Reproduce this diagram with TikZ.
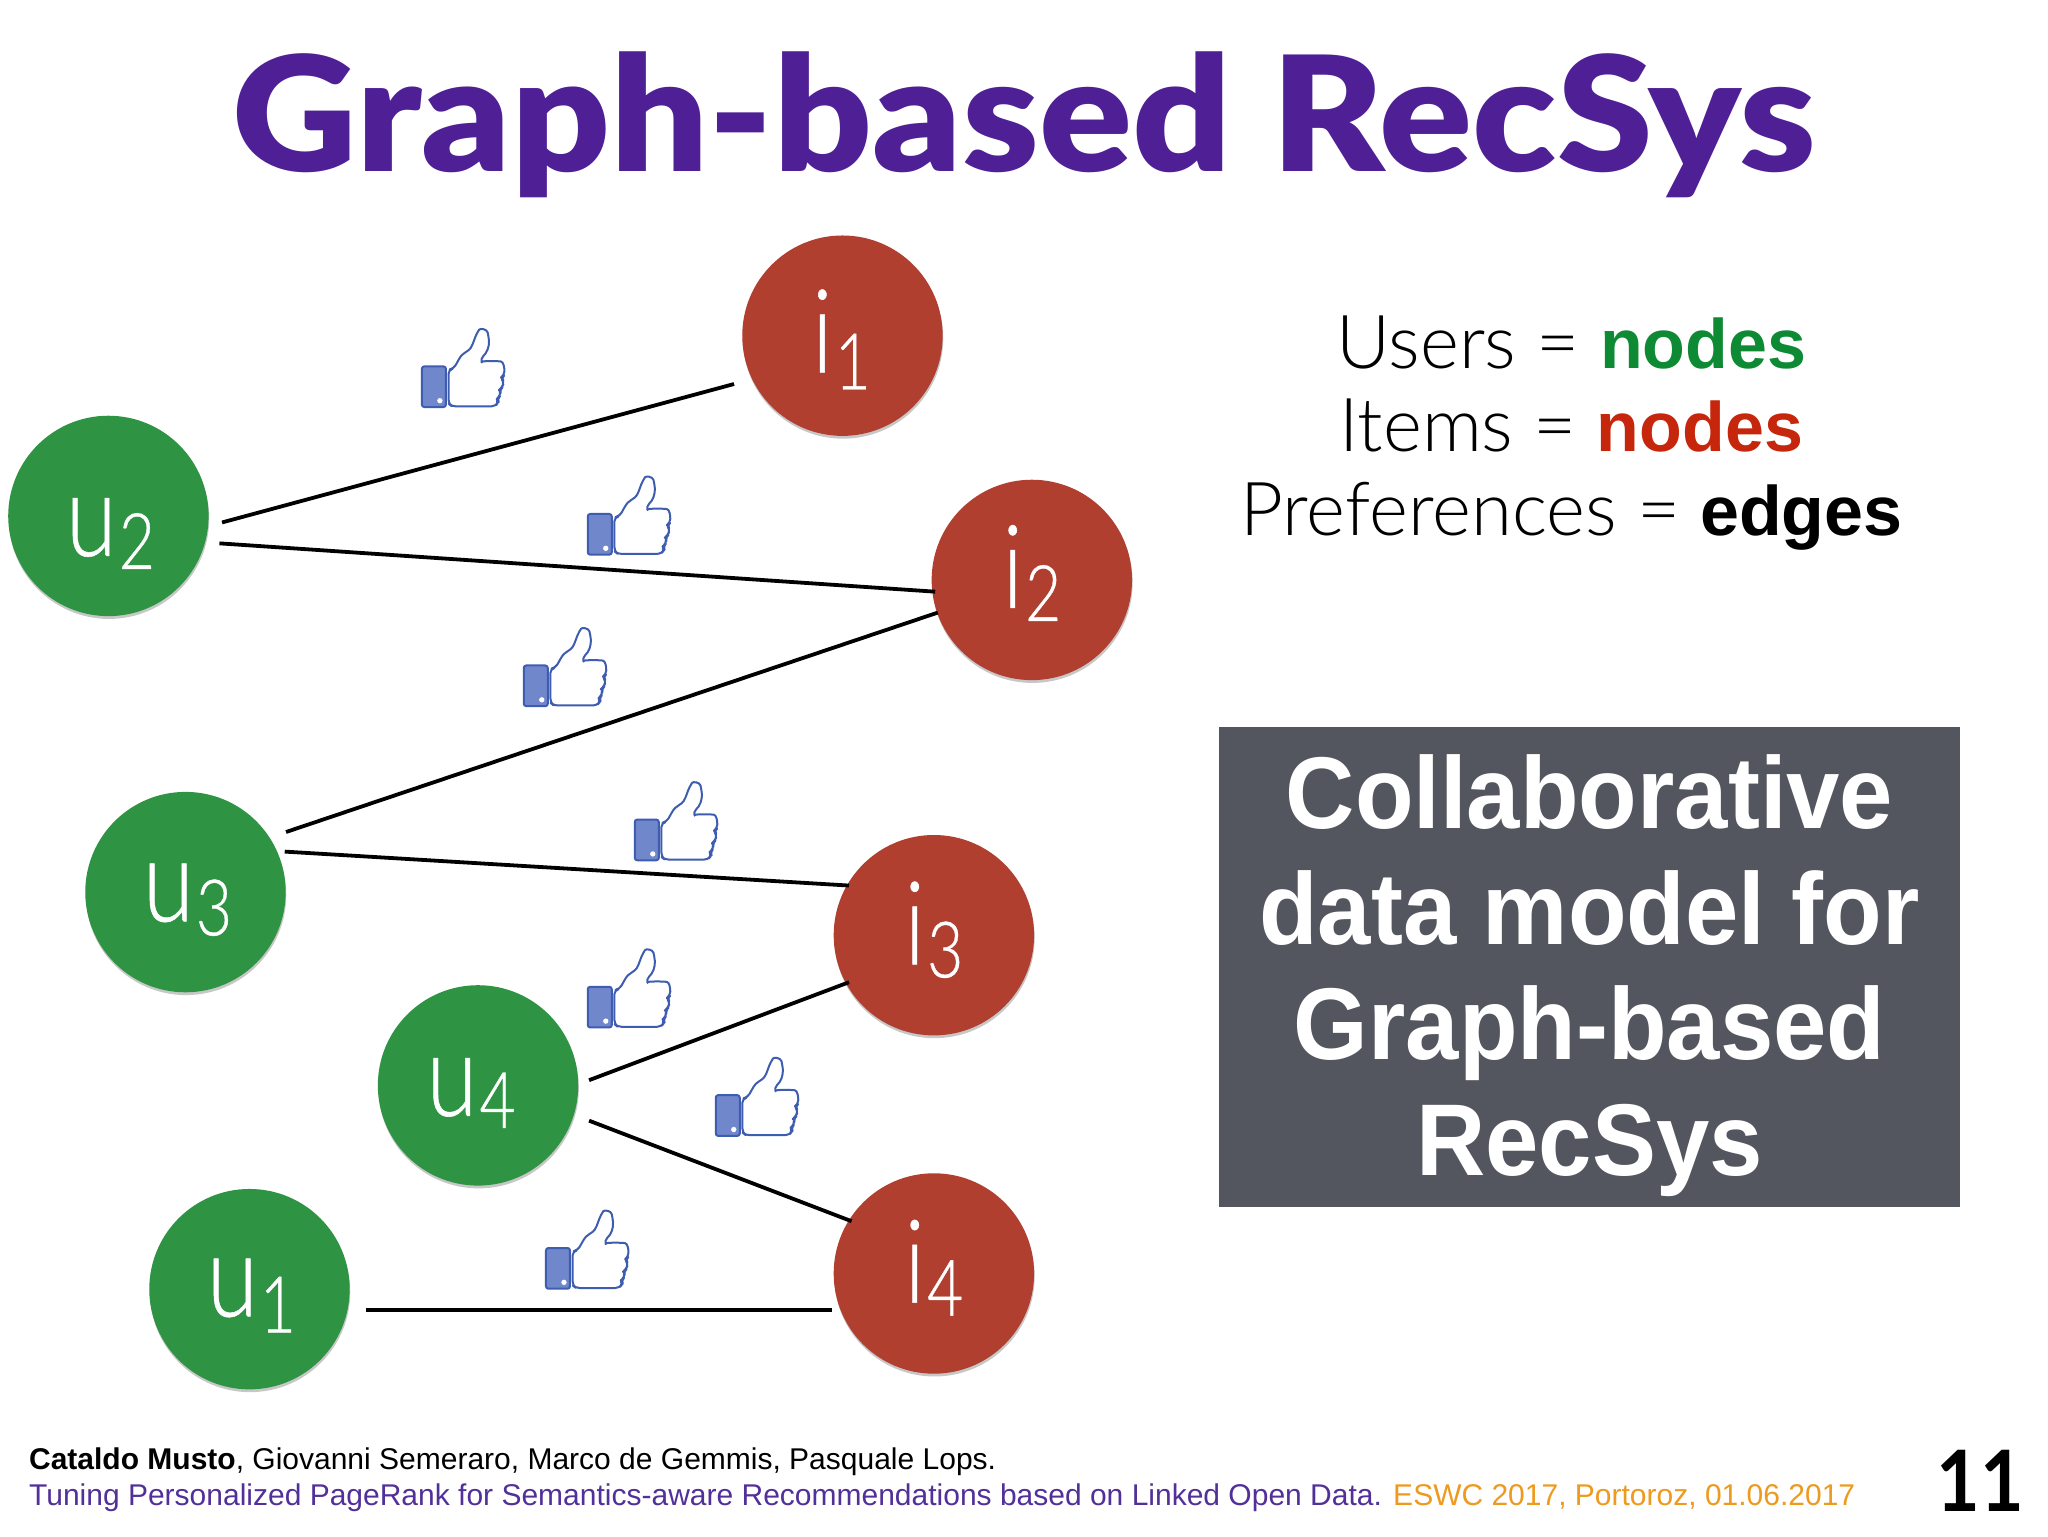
\documentclass[tikz,border=0pt]{standalone}
\usepackage{fontspec}
\usetikzlibrary{shadows,calc}
\setmainfont{Liberation Sans}
\newfontfamily\titlefont{Lato}[UprightFont=* Black]
\newfontfamily\lightfont{Lato}[UprightFont=* Light]
\newfontfamily\circfont{Lato}[UprightFont=* Light,UprightFeatures={FakeBold=0.5}]
\newfontfamily\numfont{Lato}[UprightFont=* Bold]
\definecolor{titlepurple}{HTML}{4F1F96}
\definecolor{ugreen}{HTML}{2E9444}
\definecolor{ired}{HTML}{B03F30}
\definecolor{boxgray}{HTML}{53565E}
\definecolor{txtgreen}{HTML}{0E8A34}
\definecolor{txtred}{HTML}{C5260C}
\definecolor{linkpurple}{HTML}{52309A}
\definecolor{confor}{HTML}{EE9A1E}
\definecolor{thumbblue}{HTML}{3F5DB0}
\definecolor{thumbfill}{HTML}{7187CC}
% #1 letter, #2 digit, #3 extra horizontal shift (pt), #4 letter drop (pt), #5 digit drop (pt)
\newcommand{\circlab}[5]{\hspace*{#3}\raisebox{-#4}[0pt][0pt]{\circfont\fontsize{58}{58}\selectfont\scalebox{0.8}[1]{#1}\hspace{1pt}\raisebox{-#5}{\fontsize{39}{39}\selectfont\scalebox{0.8}[1]{#2}}}}
\tikzset{
 vert/.style={circle,minimum size=100.2pt,inner sep=0pt,text=white,
   drop shadow={shadow xshift=0.3pt,shadow yshift=-1.4pt,opacity=.22,fill=black}},
 unode/.style={vert,fill=ugreen},
 inode/.style={vert,fill=ired},
 link/.style={line width=1.9pt,black},
 bigline/.style={anchor=base,inner sep=0pt,font=\lightfont\fontsize{37.2}{37.2}\selectfont},
 boxline/.style={anchor=base,inner sep=0pt,text=white,font=\bfseries\fontsize{51}{51}\selectfont},
 foot/.style={anchor=base west,inner sep=0pt,font=\fontsize{15}{15}\selectfont},
 thumb/.pic={
   \begin{scope}[scale=0.2552,line width=1pt,thumbblue,line join=round]
   \draw[fill=thumbfill,rounded corners=1.2pt] (0,0) rectangle (72,122);
   \fill[white] (54,103) circle (8);
   \draw[fill=white,rounded corners=2pt] (80,10) -- (95,7) .. controls (105,-10) and (115,-30) .. (130,-42)
     .. controls (150,-55) and (155,-75) .. (165,-100) .. controls (175,-115) and (195,-112) .. (200,-90)
     .. controls (203,-60) and (195,-40) .. (175,-23) .. controls (178,-15) and (185,-16) .. (225,-16)
     .. controls (245,-14) and (248,5) .. (247,27) -- (237,34) -- (247,47) -- (240,64) -- (233,70) -- (237,87)
     -- (225,97) -- (230,107) -- (220,120) -- (90,120) -- (80,112) -- cycle;
   \end{scope}
 }
}
\begin{document}
\begin{tikzpicture}[x=0.653061pt,y=-0.653061pt]
\useasboundingbox[fill=white] (0,0) rectangle (1568,1176);
\node[anchor=base,inner sep=0pt,text=titlepurple,font=\titlefont\fontsize{80}{80}\selectfont] (title) at (784,131) {\scalebox{1.08}[1]{Graph-based RecSys}};

\node[unode] (u2) at (83,395) {\circlab{u}{2}{2pt}{20pt}{6.5pt}};
\node[unode] (u3) at (142,683) {\circlab{u}{3}{2pt}{14.6pt}{7pt}};
\node[unode] (u4) at (366,831) {\circlab{u}{4}{-7pt}{15.2pt}{6pt}};
\node[unode] (u1) at (191,987) {\circlab{u}{1}{2pt}{13.6pt}{8pt}};
\node[inode] (i1) at (645,257) {\circlab{i}{1}{-1pt}{18.3pt}{8.5pt}};
\node[inode] (i2) at (790,444) {\circlab{i}{2}{0pt}{14pt}{6.5pt}};
\node[inode] (i3) at (715,716) {\circlab{i}{3}{0pt}{14.6pt}{6.5pt}};
\node[inode] (i4) at (715,975) {\circlab{i}{4}{0pt}{14.6pt}{6.5pt}};

\draw[link] ($(u2)+(87,5)$) -- ($(i1)+(-83,37)$);
\draw[link] ($(u2)+(85,21)$) -- ($(i2)+(-74,9)$);
\draw[link] ($(u3)+(77,-46)$) -- ($(i2)+(-72,25)$);
\draw[link] ($(u3)+(76,-31)$) -- ($(i3)+(-65,-38)$);
\draw[link] ($(u4)+(85,-4)$) -- ($(i3)+(-65,36)$);
\draw[link] ($(u4)+(85,27)$) -- ($(i4)+(-63,-40)$);
\draw[link] ($(u1)+(89,16)$) -- ($(i4)+(-78,28)$);

\pic at (323,280.5) {thumb};
\pic at (450,393.5) {thumb};
\pic at (401,509.5) {thumb};
\pic at (486,627.5) {thumb};
\pic at (450,755.5) {thumb};
\pic at (548,838.5) {thumb};
\pic at (418,955.5) {thumb};

\node[bigline] (t1) at (1203,282) {Users = {\fontsize{35}{35}\selectfont\bfseries\rmfamily\textcolor{txtgreen}{nodes}}};
\node[bigline] (t2) at (1203,346) {Items = {\fontsize{35}{35}\selectfont\bfseries\rmfamily\textcolor{txtred}{nodes}}};
\node[bigline] (t3) at (1203,410) {Preferences = {\fontsize{35}{35}\selectfont\bfseries\rmfamily\textcolor{black}{edges}}};

\node[fill=boxgray,minimum width=370.9pt,minimum height=239.7pt,inner sep=0pt] (box) at (1217,740.5) {};
\node[boxline] (c1) at (1217,634) {\scalebox{0.94}[1]{Collaborative}};
\node[boxline] (c2) at (1217,723) {\scalebox{0.94}[1]{data model for}};
\node[boxline] (c3) at (1217,811) {\scalebox{0.94}[1]{Graph-based}};
\node[boxline] (c4) at (1217,900) {\scalebox{0.94}[1]{RecSys}};

\node[foot] (f1) at (22,1125) {\textbf{Cataldo Musto}, Giovanni Semeraro, Marco de Gemmis, Pasquale Lops.};
\node[foot] (f2) at (22,1153) {\textcolor{linkpurple}{Tuning Personalized PageRank for Semantics-aware Recommendations based on Linked Open Data.} \textcolor{confor}{ESWC 2017, Portoroz, 01.06.2017}};
\node[anchor=base east,inner sep=0pt,font=\numfont\fontsize{46}{46}\selectfont] (num) at (1550,1157) {\scalebox{0.82}[0.92]{11}};
\end{tikzpicture}
\end{document}
